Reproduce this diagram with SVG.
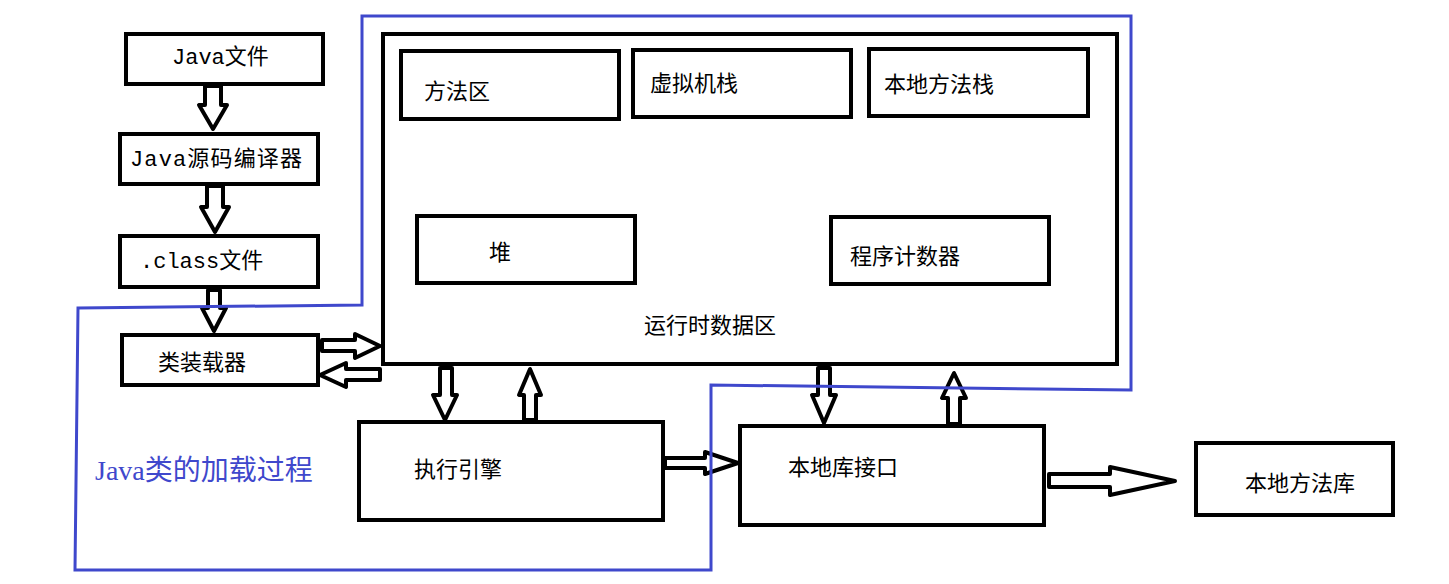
<svg xmlns="http://www.w3.org/2000/svg" width="1449" height="584" viewBox="0 0 1449 584">
<style>
.b{fill:#fff;stroke:#000;stroke-width:4}
.a{fill:#fff;stroke:#000;stroke-width:4;stroke-linejoin:round}
text{font-family:"Liberation Mono","Noto Sans CJK SC",monospace;font-size:22px;fill:#000}
</style>
<rect width="1449" height="584" fill="#fff"/>
<g id="n-java"><rect class="b" x="126" y="34" width="197" height="50"/><text x="172" y="64">Java文件</text></g>
<g id="n-compiler"><rect class="b" x="120" y="134" width="198" height="50"/><text x="130" y="166" textLength="172">Java源码编译器</text></g>
<g id="n-class"><rect class="b" x="120" y="236" width="198" height="51"/><text x="140" y="268">.class文件</text></g>
<g id="n-loader"><rect class="b" x="122" y="335" width="196" height="50"/><text x="158" y="370">类装载器</text></g>
<g id="n-rda"><rect class="b" x="383" y="34" width="734" height="330"/><text x="644" y="333">运行时数据区</text></g>
<g id="n-method"><rect class="b" x="401" y="51" width="218" height="68"/><text x="424" y="99">方法区</text></g>
<g id="n-vmstack"><rect class="b" x="633" y="50" width="218" height="67"/><text x="650" y="91">虚拟机栈</text></g>
<g id="n-nstack"><rect class="b" x="869" y="49" width="219" height="67"/><text x="884" y="92">本地方法栈</text></g>
<g id="n-heap"><rect class="b" x="417" y="216" width="218" height="67"/><text x="489" y="260">堆</text></g>
<g id="n-pc"><rect class="b" x="831" y="217" width="218" height="67"/><text x="850" y="264">程序计数器</text></g>
<g id="n-exec"><rect class="b" x="359" y="422" width="304" height="98"/><text x="414" y="477">执行引擎</text></g>
<g id="n-nif"><rect class="b" x="740" y="426" width="304" height="99"/><text x="788" y="475">本地库接口</text></g>
<g id="n-nlib"><rect class="b" x="1196" y="443" width="197" height="72"/><text x="1245" y="491">本地方法库</text></g>
<g id="connectors">
<polygon class="a" points="205,86 221,86 221,105 227,105 213,129 199,105 205,105"/>
<polygon class="a" points="207,186 223,186 223,207 229,207 215,232 201,207 207,207"/>
<polygon class="a" points="208,290 220,290 220,308 226,308 214,331 202,308 208,308"/>
<polygon class="a" points="322,340 355,340 355,334 380,346 355,358 355,351 322,351"/>
<polygon class="a" points="380,369 346,369 346,363 320,375 346,387 346,380 380,380"/>
<polygon class="a" points="440,368 452,368 452,395 457,395 445,420 433,395 440,395"/>
<polygon class="a" points="524,420 536,420 536,395 541,395 530,369 519,395 524,395"/>
<polygon class="a" points="665,458 705,458 705,452 738,463 705,474 705,468 665,468"/>
<polygon class="a" points="818,368 830,368 830,395 836,395 824,423 812,395 818,395"/>
<polygon class="a" points="948,424 960,424 960,398 966,398 954,373 942,398 948,398"/>
<polygon class="a" points="1049,474 1110,474 1110,467 1175,481 1110,495 1110,487 1049,487"/>
</g>
<path d="M78,308 L362,305 L362,16 L1131,16 L1131,390 L711,385 L711,570 L75,570 Z" fill="none" stroke="#3f48cc" stroke-width="3"/>
<text x="95" y="480" style="fill:#3f48cc;font-size:28px;font-family:'Liberation Serif','Noto Sans CJK SC',serif">Java类的加载过程</text>
</svg>
